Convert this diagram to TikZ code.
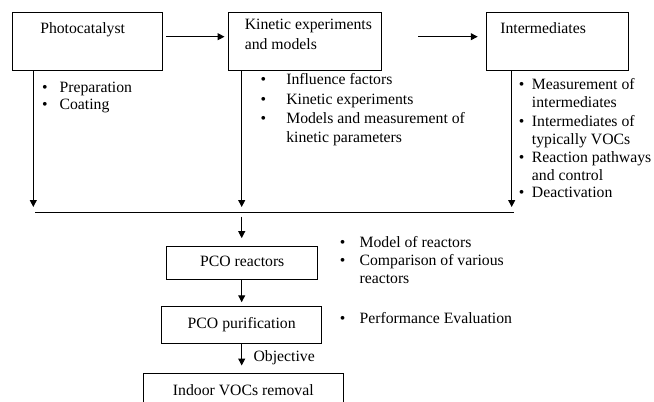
\documentclass[tikz,border=0pt]{standalone}
\usepackage{fontspec}
\setmainfont{Liberation Serif}
\usetikzlibrary{arrows.meta}
\tikzset{
  box/.style={draw, line width=0.75pt, inner sep=0pt, text height=8pt, text depth=2.5pt},
  txt/.style={anchor=base west, inner sep=0pt},
  dot/.style={anchor=base, inner sep=0pt},
  arr/.style={line width=0.75pt, -{Triangle[width=5.2pt,length=5.2pt]}}
}

\begin{document}
\begin{tikzpicture}[x=0.75pt,y=0.75pt,yscale=-1,xscale=1,font=\fontsize{11.8}{13.5}\selectfont]
\useasboundingbox (0,0) rectangle (654,402);

%Shape: top boxes
\node[box, minimum width=112.5pt, minimum height=43.5pt] (photo) at (87.3,41.7) {};
\node[box, minimum width=114.5pt, minimum height=43.5pt] (kin) at (304.7,41.7) {};
\node[box, minimum width=106.3pt, minimum height=43.5pt] (inter) at (557.5,41.7) {};

% Text Node
\node[txt] (photo-t) at (40,34) {Photocatalyst};
\node[txt] (kin-t1) at (244.5,29.3) {Kinetic experiments};
\node[txt] (kin-t2) at (244.5,49.3) {and models};
\node[txt] (inter-t) at (500,33.3) {Intermediates};

%Straight Lines: top arrows
\coordinate (a1) at (166,36.7);
\coordinate (a2) at (418.3,36.7);
\draw[arr, shorten >=2.5pt] (a1) -- (a1 -| kin.west);
\draw[arr, shorten >=6.3pt] (a2) -- (a2 -| inter.west);

%Straight Lines: drops to the bus
\coordinate (d1) at (33.3,207);
\coordinate (d2) at (241.7,207);
\coordinate (d3) at (511.7,207);
\draw[arr] (d1 |- photo.south) -- (d1);
\draw[arr] (d2 |- kin.south) -- (d2);
\draw[arr] (d3 |- inter.south) -- (d3);
\coordinate (busL) at (35,212.3);
\coordinate (busR) at (514.3,212.3);
\draw[line width=0.75pt] (busL) -- (busR);

% Text Node: Photocatalyst list
\node[dot] (p-b1) at (45,92.3) {•};
\node[txt] (p-1) at (59.3,92.3) {Preparation};
\node[dot] (p-b2) at (45,110) {•};
\node[txt] (p-2) at (59.3,110) {Coating};

% Text Node: kinetic list
\node[dot] (k-b1) at (263.3,84.3) {•};
\node[txt] (k-1) at (286,84.3) {Influence factors};
\node[dot] (k-b2) at (263.3,104.3) {•};
\node[txt] (k-2) at (286,104.3) {Kinetic experiments};
\node[dot] (k-b3) at (263.3,124) {•};
\node[txt] (k-3) at (286,124) {Models and measurement of};
\node[txt] (k-3b) at (286,142.7) {kinetic parameters};

% Text Node: intermediates list
\node[dot] (i-b1) at (521.7,90) {•};
\node[txt] (i-1) at (531.7,90) {Measurement of};
\node[txt] (i-1b) at (531.7,108) {intermediates};
\node[dot] (i-b2) at (521.7,126.5) {•};
\node[txt] (i-2) at (531.7,126.5) {Intermediates of};
\node[txt] (i-2b) at (531.7,144.5) {typically VOCs};
\node[dot] (i-b3) at (521.7,163) {•};
\node[txt] (i-3) at (531.7,163) {Reaction pathways};
\node[txt] (i-3b) at (531.7,180.5) {and control};
\node[dot] (i-b4) at (521.7,198) {•};
\node[txt] (i-4) at (531.7,198) {Deactivation};

%Shape: lower boxes
\node[box, minimum width=113.25pt, minimum height=25pt] (reac) at (242.2,263.3) {PCO reactors};
\node[box, minimum width=120pt, minimum height=28pt] (puri) at (241.7,324.7) {PCO purification};
\node[box, minimum width=150pt, minimum height=27pt] (indoor) at (243.3,392) {Indoor VOCs removal};

%Straight Lines: lower arrows
\coordinate (d4) at (241.7,216.7);
\draw[arr, shorten >=6pt] (d4) -- (d4 |- reac.north);
\draw[arr, shorten >=2.5pt] (d4 |- reac.south) -- (d4 |- puri.north);
\draw[arr, shorten >=6pt] (d4 |- puri.south) -- (d4 |- indoor.north);

% Text Node
\node[txt] (obj) at (253.3,361.7) {Objective};

% Text Node: reactor list
\node[dot] (r-b1) at (342.7,247.3) {•};
\node[txt] (r-1) at (359.3,247.3) {Model of reactors};
\node[dot] (r-b2) at (342.7,266) {•};
\node[txt] (r-2) at (359.3,266) {Comparison of various};
\node[txt] (r-2b) at (359.3,283.3) {reactors};
\node[dot] (r-b3) at (342.7,323.3) {•};
\node[txt] (r-3) at (359.3,323.3) {Performance Evaluation};

\end{tikzpicture}
\end{document}
